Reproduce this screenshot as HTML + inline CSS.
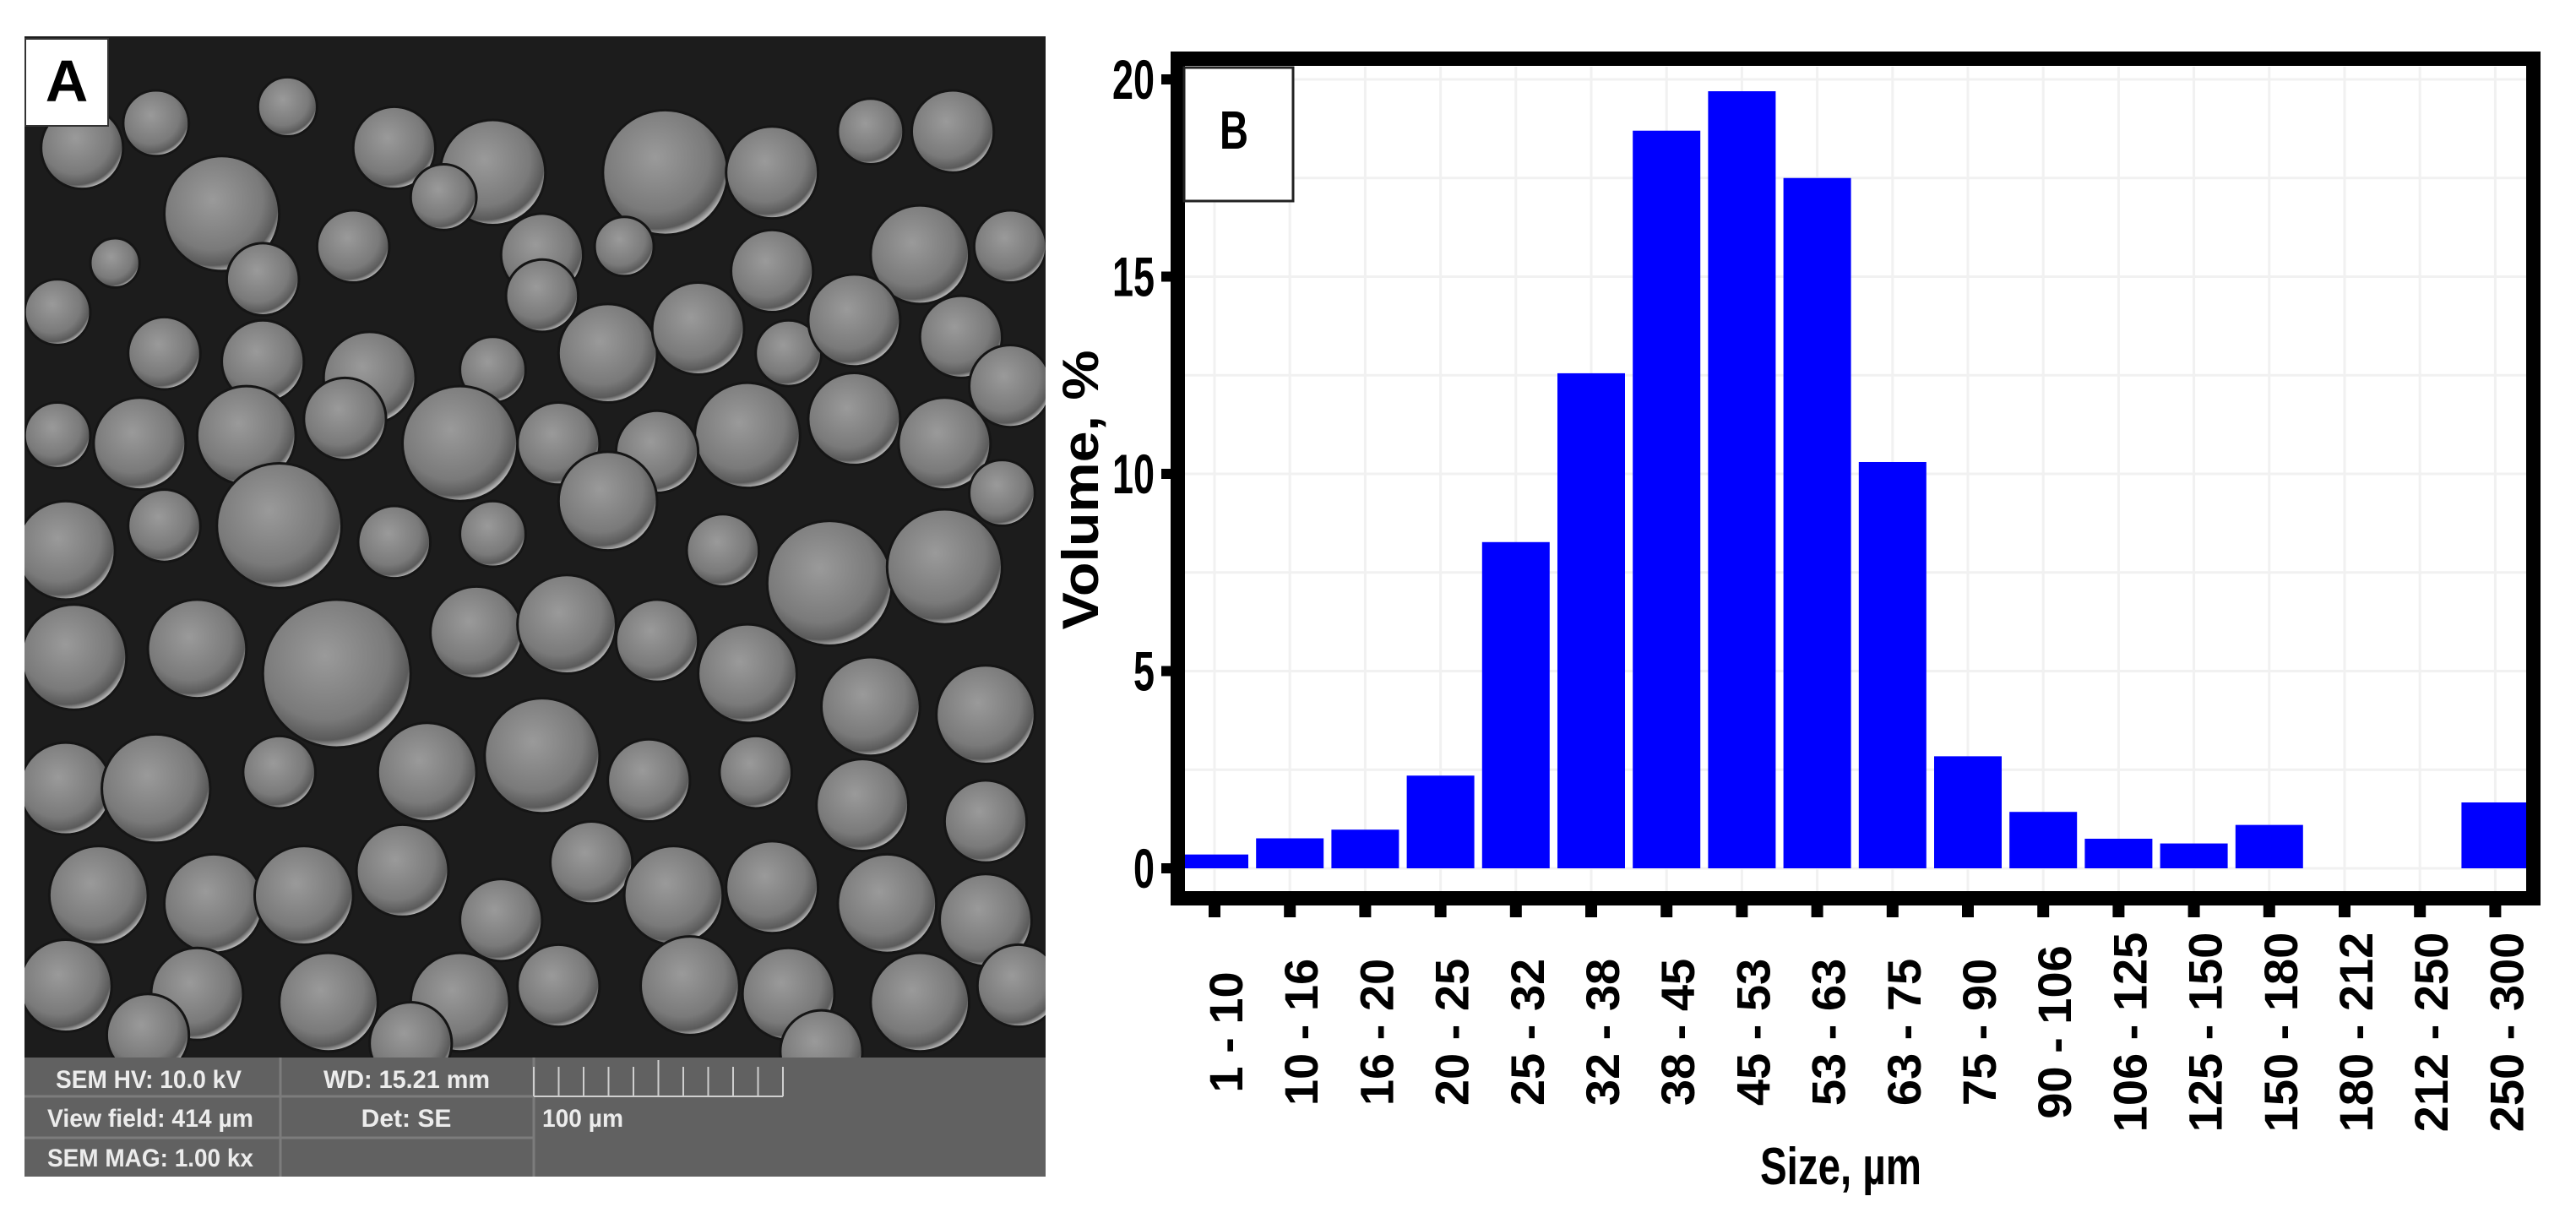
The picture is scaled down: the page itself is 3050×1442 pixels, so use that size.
<!DOCTYPE html>
<html><head><meta charset="utf-8"><style>
html,body{margin:0;padding:0;background:#fff;}
svg{display:block;}
text{font-family:"Liberation Sans",Arial,sans-serif;}
</style></head><body>
<svg id="root" width="3050" height="1442" viewBox="0 0 3050 1442" xmlns="http://www.w3.org/2000/svg">
<defs>
<radialGradient id="pg" cx="0.42" cy="0.38" r="0.62">
<stop offset="0" stop-color="#9a9a9a"/><stop offset="0.7" stop-color="#7a7a7a"/><stop offset="0.92" stop-color="#5a5a5a"/><stop offset="1" stop-color="#b0b0b0"/>
</radialGradient>
<clipPath id="photoClip"><rect x="29" y="43" width="1209" height="1209"/></clipPath>
</defs>
<g>
<rect x="29" y="43" width="1209" height="1209" fill="#1c1c1c"/>
<g id="particles"></g>
<rect x="29" y="1252" width="1209" height="141" fill="#616161"/>
<g stroke="#7c7c7c" stroke-width="3">
<line x1="29" y1="1298" x2="632" y2="1298"/><line x1="29" y1="1347" x2="632" y2="1347"/>
<line x1="332" y1="1252" x2="332" y2="1393"/><line x1="632" y1="1252" x2="632" y2="1393"/>
</g>
<g id="scalebar" stroke="#cfcfcf" stroke-width="2" fill="none"></g>
<g fill="#ececec" font-weight="bold" font-size="30">
<text x="66" y="1288" textLength="220" lengthAdjust="spacingAndGlyphs">SEM HV: 10.0 kV</text>
<text x="383" y="1288" textLength="197" lengthAdjust="spacingAndGlyphs">WD: 15.21 mm</text>
<text x="56" y="1334" textLength="244" lengthAdjust="spacingAndGlyphs">View field: 414 µm</text>
<text x="481" y="1334" text-anchor="middle">Det: SE</text>
<text x="642" y="1334" textLength="96" lengthAdjust="spacingAndGlyphs">100 µm</text>
<text x="56" y="1381" textLength="244" lengthAdjust="spacingAndGlyphs">SEM MAG: 1.00 kx</text>
</g>
<rect x="30" y="46" width="98" height="103" fill="#fff" stroke="#333" stroke-width="2"/>
<text x="79" y="120" text-anchor="middle" font-size="70" font-weight="bold" fill="#000">A</text>
</g>
<g id="chart"></g>
</svg>
<script>
// ---- chart data ----
const categories = ["1 - 10","10 - 16","16 - 20","20 - 25","25 - 32","32 - 38","38 - 45","45 - 53","53 - 63","63 - 75","75 - 90","90 - 106","106 - 125","125 - 150","150 - 180","180 - 212","212 - 250","250 - 300"];
const volumes = [0.35,0.76,0.98,2.35,8.27,12.55,18.7,19.7,17.5,10.3,2.84,1.43,0.75,0.63,1.1,0,0,1.67];
const yTicks = [0,5,10,15,20];
const yTickLabels = ["0","5","10","15","20"];

const NS = "http://www.w3.org/2000/svg";
function mk(tag, attrs, parent){const e=document.createElementNS(NS,tag);for(const k in attrs)e.setAttribute(k,attrs[k]);parent.appendChild(e);return e;}

const inL=1403, inR=2991, inT=79, inB=1055;
const y0px=1028, pxPerUnit=46.7;
function yScale(v){return y0px - v*pxPerUnit;}
const x0=1438, step=89.2, barW=80;
function xScale(i){return x0 + i*step;}

const chart=document.getElementById('chart');
mk('rect',{x:inL,y:inT,width:inR-inL,height:inB-inT,fill:'#fff'},chart);
const grid=mk('g',{stroke:'#f1f1f1','stroke-width':3},chart);


for(let v=0; v<=20.01; v+=2.5){const y=yScale(v);mk('line',{x1:inL,x2:inR,y1:y,y2:y},grid);}
categories.forEach((c,i)=>{const x=xScale(i);mk('line',{x1:x,x2:x,y1:inT,y2:inB},grid);});
const bars=mk('g',{fill:'#0000ff'},chart);


volumes.forEach((v,i)=>{
  if(v<=0) return;
  let x=xScale(i)-barW/2, w=barW;
  if(x<inL){w-= (inL-x); x=inL;}
  if(x+w>inR){w=inR-x;}
  const r=mk('rect',{x:x,y:yScale(v),width:w,height:yScale(0)-yScale(v)},bars);
  
  
});
const frame=mk('rect',{x:1394.5,y:69.5,width:1605,height:994,fill:'none',stroke:'#000','stroke-width':17},chart);


const yax=mk('g',{},chart);


yTicks.forEach((v,i)=>{
  const y=yScale(v);
  mk('rect',{x:1375,y:y-6,width:12,height:12,fill:'#000'},yax);
  const t=mk('text',{x:1367,y:y+23,'text-anchor':'end','font-size':66,'font-weight':'bold',fill:'#000',textLength:yTickLabels[i].length*25,lengthAdjust:'spacingAndGlyphs'},yax);
  t.textContent=yTickLabels[i];
  
  
});
const xax=mk('g',{},chart);


categories.forEach((c,i)=>{
  const x=xScale(i);
  mk('rect',{x:x-7,y:1070,width:14,height:16,fill:'#000'},xax);
  const t=mk('text',{x:0,y:0,'text-anchor':'middle','font-size':56,'font-weight':'bold',fill:'#000',transform:'translate('+(x+33)+',1222) rotate(-90)'},xax);
  t.textContent=c;
  
  
});
const yt=mk('text',{x:0,y:0,'text-anchor':'middle','font-size':60,'font-weight':'bold',fill:'#000',textLength:331,lengthAdjust:'spacingAndGlyphs',transform:'translate(1300,580) rotate(-90)'},chart);
yt.textContent='Volume, %';


const xt=mk('text',{x:2084,y:1402,'font-size':62,'font-weight':'bold',fill:'#000',textLength:191,lengthAdjust:'spacingAndGlyphs'},chart);
xt.textContent='Size, µm';


const bb=mk('rect',{x:1402,y:80,width:129,height:158,fill:'#fff',stroke:'#222','stroke-width':3},chart);


const bt=mk('text',{x:1444,y:176,'font-size':64,'font-weight':'bold',fill:'#000',textLength:34,lengthAdjust:'spacingAndGlyphs'},chart);
bt.textContent='B';



// ---- SEM particles (decorative) ----
const parts=[[135,130,35],[50,90,25],[95,75,20],[175,65,18],[240,90,25],[300,105,32],[405,105,38],[470,105,28],[530,80,20],[580,80,25],[615,150,22],[560,155,30],[470,165,25],[380,150,18],[330,155,25],[270,120,20],[215,150,22],[160,170,22],[70,160,15],[35,190,20],[100,215,22],[160,220,25],[225,230,28],[300,225,20],[330,180,22],[370,215,30],[425,200,28],[480,215,20],[520,195,28],[585,205,25],[615,235,25],[575,270,28],[520,255,28],[455,265,32],[400,275,25],[340,270,25],[280,270,35],[210,255,25],[150,265,30],[85,270,28],[35,265,20],[40,335,30],[100,320,22],[170,320,38],[240,330,22],[300,325,20],[370,305,30],[440,335,22],[505,355,38],[575,345,35],[610,300,20],[45,400,32],[120,395,30],[205,410,45],[290,385,28],[345,380,30],[400,390,25],[455,410,30],[530,430,30],[600,435,30],[40,480,28],[95,480,33],[170,470,22],[260,470,30],[330,460,35],[395,475,25],[460,470,22],[525,490,28],[600,500,25],[60,545,30],[130,550,30],[185,545,30],[245,530,28],[305,560,25],[360,525,25],[410,545,30],[470,540,28],[540,550,30],[600,560,28],[40,600,28],[120,605,28],[200,610,30],[280,610,30],[340,600,25],[420,600,30],[480,605,28],[560,610,30],[620,600,25],[90,630,25],[250,635,25],[500,640,25]];
const pg=document.getElementById('particles');
pg.setAttribute('clip-path','url(#photoClip)');
const s=1.945;
parts.forEach(p=>{
  mk('circle',{cx:p[0]*s,cy:p[1]*s,r:p[2]*s,fill:'url(#pg)',stroke:'#151515','stroke-width':3},pg);
});
const sb=document.getElementById('scalebar');
mk('line',{x1:632,y1:1298,x2:927,y2:1298},sb);
for(let i=0;i<=10;i++){const x=632+i*29.5;mk('line',{x1:x,y1:1298,x2:x,y2:(i===5?1255:1263)},sb);}
</script>
</body></html>
